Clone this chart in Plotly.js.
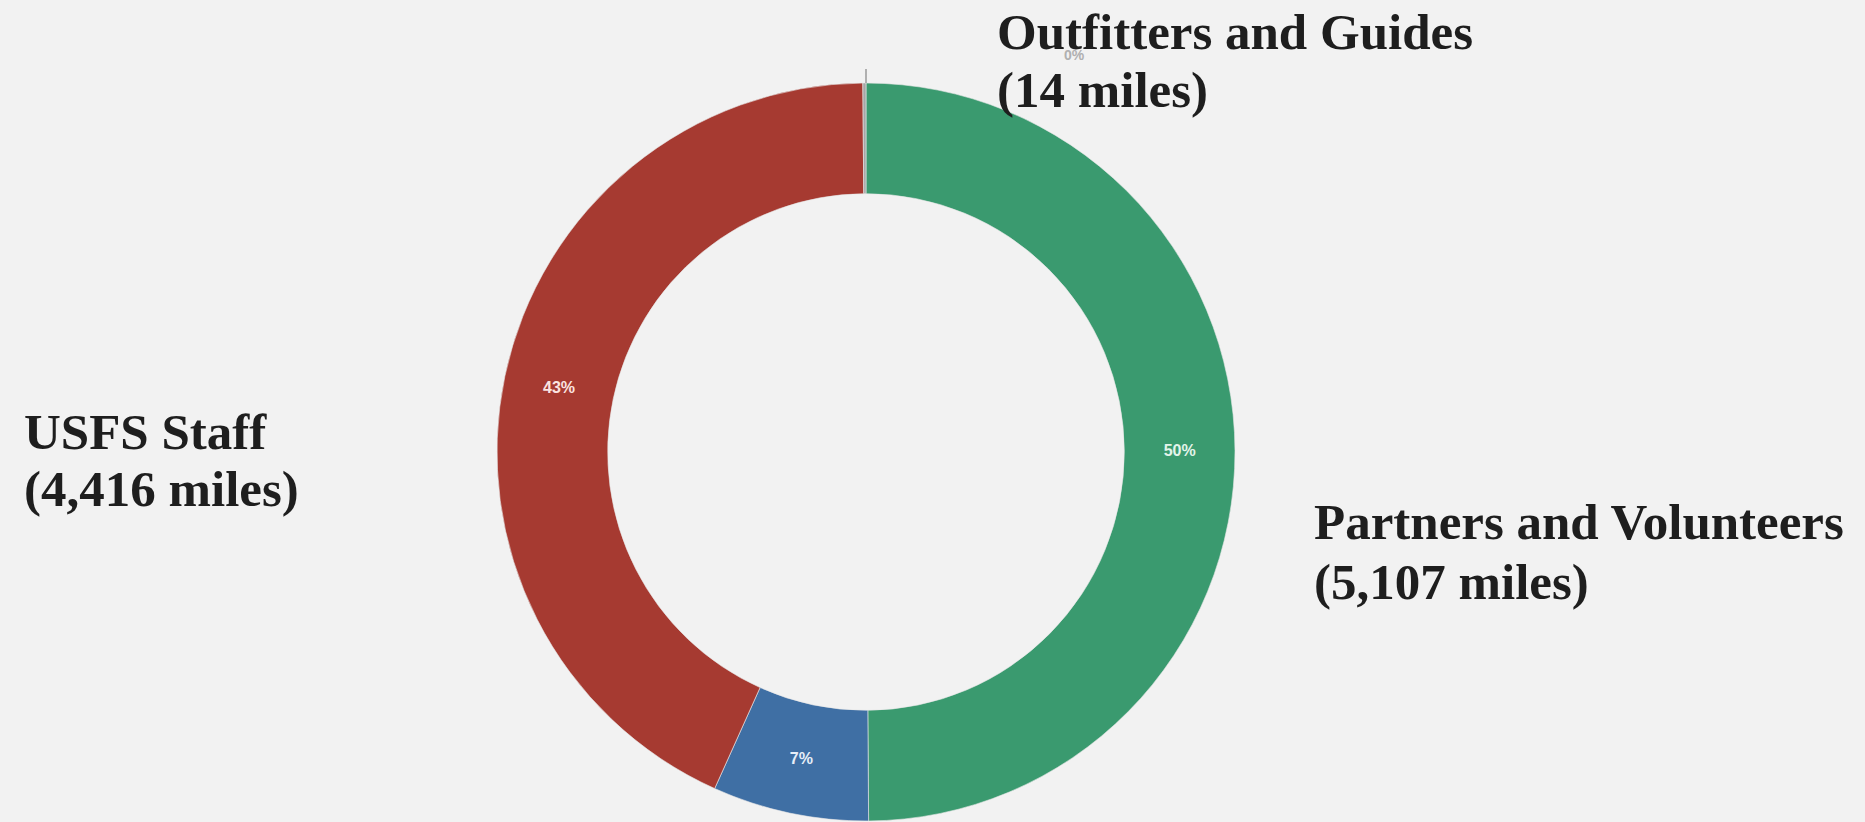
<!DOCTYPE html>
<html>
<head>
<meta charset="utf-8">
<script src="https://cdn.plot.ly/plotly-3.0.1.min.js"></script>
<style>
  html, body { margin: 0; padding: 0; background: #f2f2f2; }
  #chart { width: 1865px; height: 822px; }
</style>
</head>
<body>
<div id="chart"></div>
<script>
// Data
const categories = ["Partners and Volunteers", "Other", "USFS Staff", "Outfitters and Guides"];
const miles = [5107, 700, 4416, 14];
const colors = ["#3a9a6f", "#3f6fa4", "#a63a31", "#a6a6a6"];
const showOuterLabel = [true, false, true, true];

const total = miles.reduce((a, b) => a + b, 0);
const pctText = miles.map(v => Math.round(v / total * 100) + "%");
const fmt = v => v.toLocaleString("en-US");

const W = 1865, H = 822;
const cx = 866, cy = 452, R = 369;

const trace = {
  type: "pie",
  labels: categories,
  values: miles,
  sort: false,
  direction: "clockwise",
  rotation: 0,
  hole: 0.70,
  marker: { colors: colors, line: { color: "#e8e8e8", width: 0.6 } },
  text: pctText,
  textinfo: "text",
  texttemplate: "<b>%{text}</b>",
  textposition: ["inside", "inside", "inside", "none"],
  insidetextorientation: "horizontal",
  insidetextfont: { family: "Liberation Sans Narrow, Liberation Sans, Arial", size: 16, color: ["#e3f4ea", "#e6eef8", "#fbe4e1", "#ffffff"] },
  showlegend: false,
  hoverinfo: "label+value+percent",
  domain: { x: [(cx - R) / W, (cx + R) / W], y: [1 - (cy + R) / H, 1 - (cy - R) / H] }
};

const labelFont = { family: "Liberation Serif, Times New Roman, serif", size: 51, color: "#1e1e1e", weight: "bold" };
// outer label positions (px, from top-left), one entry per category
const labelPos = [
  { x: 1312, y1: 540, y2: 600 },
  null,
  { x: 22, y1: 450, y2: 507 },
  { x: 995, y1: 50, y2: 108 }
];

const annotations = [];
categories.forEach((c, i) => {
  if (!showOuterLabel[i]) return;
  const p = labelPos[i];
  [[c, p.y1], ["(" + fmt(miles[i]) + " miles)", p.y2]].forEach(([t, yb]) => {
    annotations.push({
      xref: "paper", yref: "paper",
      x: p.x / W, y: 1 - yb / H,
      xanchor: "left", yanchor: "bottom", yshift: -12,
      text: t, showarrow: false, font: labelFont, align: "left"
    });
  });
});
// small percentage label of the tiny slice
annotations.push({
  xref: "paper", yref: "paper", x: 1074 / W, y: 1 - 55 / H,
  xanchor: "center", yanchor: "middle",
  text: "<b>" + pctText[3] + "</b>", showarrow: false,
  font: { family: "Liberation Sans Narrow, Liberation Sans, Arial", size: 14, color: "#b0b0b0" }
});

const layout = {
  width: W, height: H,
  margin: { l: 0, r: 0, t: 0, b: 0 },
  paper_bgcolor: "#f2f2f2",
  plot_bgcolor: "#f2f2f2",
  showlegend: false,
  annotations: annotations,
  shapes: [{
    type: "line", xref: "paper", yref: "paper",
    x0: cx / W, x1: cx / W, y0: 1 - (cy - R) / H, y1: 1 - (cy - R - 14) / H,
    line: { color: "#9a9a9a", width: 1.5 }
  }]
};

Plotly.newPlot("chart", [trace], layout, { displayModeBar: false, staticPlot: true });
</script>
</body>
</html>
